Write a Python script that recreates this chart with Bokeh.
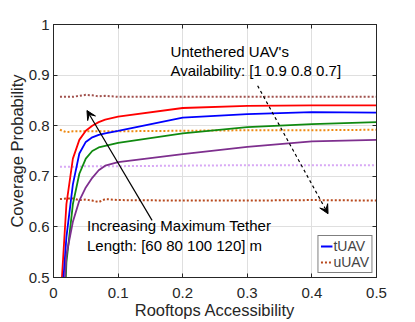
from bokeh.plotting import figure
from bokeh.models import (Range1d, LinearAxis, Legend, LegendItem, Arrow, VeeHead,
                          Label, FixedTicker)
from bokeh.embed import file_html
from bokeh.resources import INLINE

# ---- data ----
rooftops = [0.01, 0.02, 0.03, 0.04, 0.05, 0.06, 0.07, 0.08, 0.1, 0.2, 0.3, 0.4, 0.5]

tuav_120 = [0.436, 0.645, 0.735, 0.772, 0.790, 0.800, 0.807, 0.812, 0.818, 0.835, 0.839, 0.840, 0.840]
tuav_100 = [0.402, 0.580, 0.684, 0.745, 0.768, 0.777, 0.782, 0.785, 0.790, 0.816, 0.823, 0.827, 0.826]
tuav_80 = [0.200, 0.530, 0.645, 0.705, 0.735, 0.750, 0.757, 0.760, 0.766, 0.785, 0.797, 0.803, 0.807]
tuav_60 = [0.320, 0.545, 0.610, 0.652, 0.678, 0.697, 0.712, 0.721, 0.728, 0.744, 0.758, 0.769, 0.772]

uuav_1 = [0.857, 0.857, 0.857, 0.859, 0.861, 0.860, 0.858, 0.859, 0.857, 0.857, 0.857, 0.857, 0.857]
uuav_09 = [0.792, 0.787, 0.789, 0.789, 0.789, 0.789, 0.789, 0.789, 0.789, 0.790, 0.791, 0.791, 0.792]
uuav_08 = [0.719, 0.719, 0.719, 0.719, 0.720, 0.720, 0.720, 0.720, 0.720, 0.721, 0.722, 0.722, 0.722]
uuav_07 = [0.655, 0.656, 0.656, 0.653, 0.654, 0.652, 0.649, 0.655, 0.653, 0.652, 0.652, 0.653, 0.652]

x_ticks = [0, 0.1, 0.2, 0.3, 0.4, 0.5]
x_tick_labels = ["0", "0.1", "0.2", "0.3", "0.4", "0.5"]
y_ticks = [0.5, 0.6, 0.7, 0.8, 0.9, 1.0]
y_tick_labels = ["0.5", "0.6", "0.7", "0.8", "0.9", "1"]

FONT = "Liberation Sans"
AX = "#262626"

p = figure(width=414, height=321, x_range=Range1d(0, 0.5), y_range=Range1d(0.5, 1.0),
           output_backend="svg", toolbar_location=None,
           min_border_left=53, min_border_right=38, min_border_top=24, min_border_bottom=44,
           x_axis_label="Rooftops Accessibility", y_axis_label="Coverage Probability")
p.outline_line_color = AX
p.outline_line_width = 1
p.background_fill_color = "white"

for ax, ticks, labels in ((p.xaxis[0], x_ticks, x_tick_labels), (p.yaxis[0], y_ticks, y_tick_labels)):
    ax.ticker = FixedTicker(ticks=ticks)
    ax.major_label_overrides = dict(zip(ticks, labels))
    ax.major_tick_in = 4
    ax.major_tick_out = 0
    ax.minor_tick_line_color = None
    ax.axis_line_color = AX
    ax.major_tick_line_color = AX
    ax.major_label_text_font = FONT
    ax.major_label_text_font_size = "15px"
    ax.major_label_text_color = AX
    ax.axis_label_text_font = FONT
    ax.axis_label_text_font_size = "16.5px"
    ax.axis_label_text_font_style = "normal"
    ax.axis_label_text_color = AX
p.xaxis.major_label_standoff = 10
p.xaxis.axis_label_standoff = 0
p.yaxis.major_label_standoff = 4
p.yaxis.axis_label_standoff = 0

# mirrored ticks on top and right (no labels drawn)
for loc, ticks in (("right", y_ticks), ("above", x_ticks)):
    a = LinearAxis(ticker=FixedTicker(ticks=ticks), major_tick_in=4, major_tick_out=0,
                   minor_tick_line_color=None, major_label_text_font_size="1px",
                   major_label_text_color=None,
                   axis_line_color=AX, major_tick_line_color=AX, major_label_standoff=0)
    p.add_layout(a, loc)

p.xgrid.ticker = FixedTicker(ticks=x_ticks)
p.ygrid.ticker = FixedTicker(ticks=y_ticks)
p.grid.grid_line_color = "#dfdfdf"
p.grid.grid_line_width = 1

# uUAV dotted lines
dot_style = dict(line_width=2, line_dash="2 2")
d1 = p.line(rooftops, uuav_1, line_color="#a0504c", **dot_style)
d2 = p.line(rooftops, uuav_09, line_color="#ee8a12", **dot_style)
d3 = p.line(rooftops, uuav_08, line_color="#d8a8f5", **dot_style)
d4 = p.line(rooftops, uuav_07, line_color="#b8481c", **dot_style)

# tUAV solid lines
r1 = p.line(rooftops, tuav_120, line_color="#ff0000", line_width=1.8)
r2 = p.line(rooftops, tuav_100, line_color="#0000ff", line_width=1.8)
r3 = p.line(rooftops, tuav_80, line_color="#108a10", line_width=1.8)
r4 = p.line(rooftops, tuav_60, line_color="#7e2f8e", line_width=1.8)

# arrows
p.add_layout(Arrow(end=VeeHead(size=9, fill_color="black", line_color="black", line_width=1),
                   x_start=0.1526, y_start=0.613, x_end=0.0518, y_end=0.830,
                   line_color="black", line_width=1.2))
p.add_layout(Arrow(end=VeeHead(size=9, fill_color="black", line_color="black", line_width=1),
                   x_start=0.316, y_start=0.879, x_end=0.425, y_end=0.626,
                   line_color="black", line_width=1.2, line_dash="3 3"))

# annotation texts
txt = dict(text_font=FONT, text_font_size="15px", text_color="black", text_baseline="middle",
           text_align="left")
p.add_layout(Label(x=0.181, y=0.9465, text="Untethered UAV's", **txt))
p.add_layout(Label(x=0.181, y=0.909, text="Availability: [1 0.9 0.8 0.7]", **txt))
p.add_layout(Label(x=0.0518, y=0.602, text="Increasing Maximum Tether", **txt))
p.add_layout(Label(x=0.0518, y=0.5624, text="Length: [60 80 100 120] m", **txt))

legend = Legend(items=[LegendItem(label="tUAV", renderers=[r2]),
                       LegendItem(label="uUAV", renderers=[d4])],
                location="bottom_right", margin=4, padding=2, spacing=0,
                glyph_width=12, glyph_height=16, label_height=16, label_standoff=1,
                label_text_font=FONT, label_text_font_size="14px",
                border_line_color="black", border_line_width=1,
                background_fill_color="white", background_fill_alpha=1)
p.add_layout(legend)

open("out.html", "w").write(file_html(p, INLINE))
